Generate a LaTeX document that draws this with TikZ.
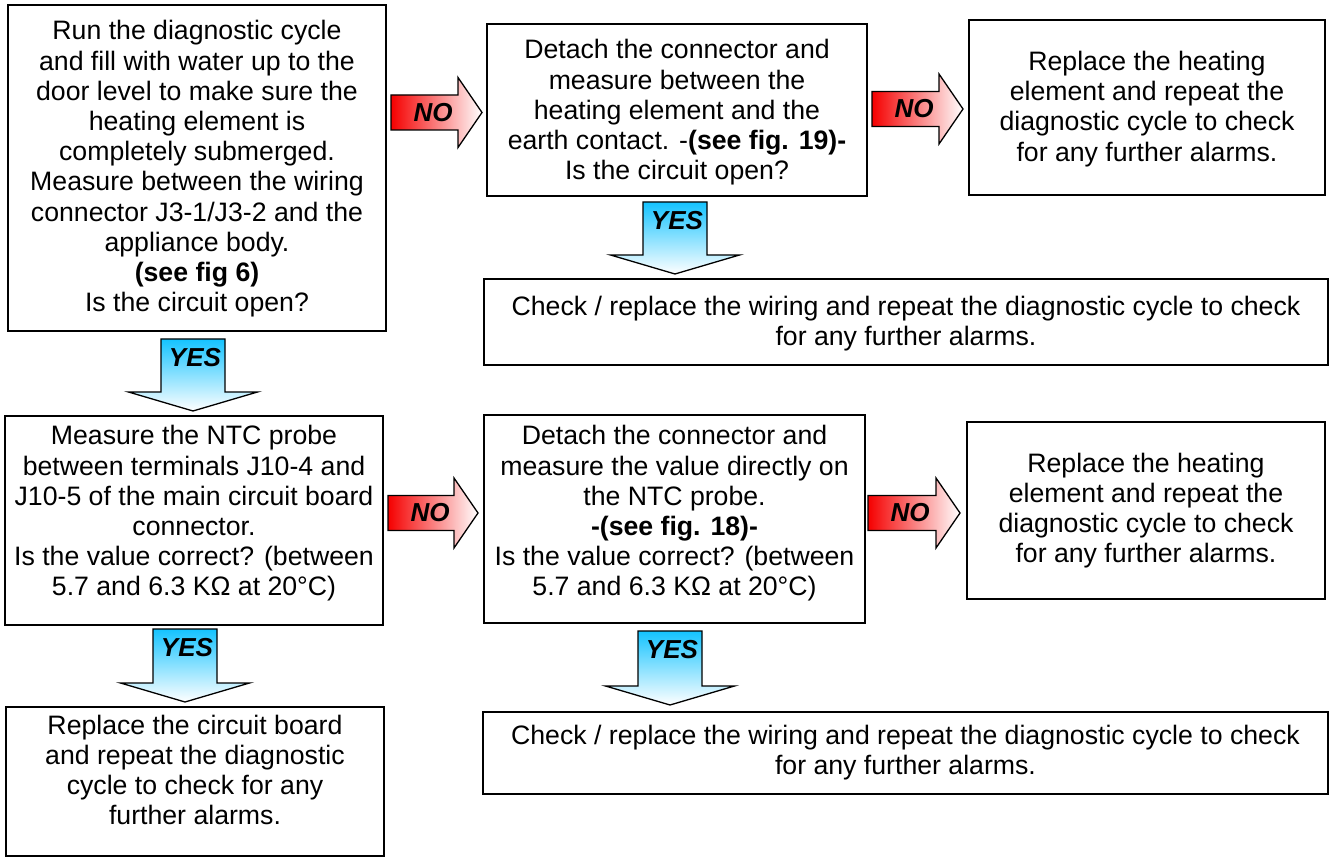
\documentclass[tikz,border=0pt]{standalone}
\usepackage{fontspec}
\setmainfont{Liberation Sans}
\usetikzlibrary{calc}

\definecolor{yestop}{RGB}{20,195,255}
\definecolor{nored}{RGB}{245,0,0}

\tikzset{
  box/.style={draw, line width=2pt, inner sep=0pt},
  boxtext/.style={align=center, inner sep=0pt, font=\fontsize{26.67pt}{30.2pt}\selectfont},
  flowtag/.style={inner sep=0pt, font=\fontsize{26pt}{30pt}\selectfont\bfseries\itshape},
  noshade/.style={left color=nored, right color=white, draw=black, line width=1.3pt},
  yesshade/.style={top color=yestop, middle color=yestop!35!white, bottom color=white, draw=black, line width=1.3pt},
}

% horizontal block arrow: #1 label name, #2 tail point, #3 tip point
\newcommand\noarrow[3]{%
  \path[noshade] let \p1=(#2), \p2=(#3) in
    (\x1,\y1+17.5pt) -- (\x2-24pt,\y1+17.5pt) -- (\x2-24pt,\y1+35pt) -- (\x2,\y1)
    -- (\x2-24pt,\y1-35pt) -- (\x2-24pt,\y1-17.5pt) -- (\x1,\y1-17.5pt) -- cycle;
  \path let \p1=(#2) in node[flowtag] (#1) at (\x1+42pt,\y1) {NO};
}
% vertical block arrow: #1 label name, #2 top of shaft, #3 tip point
\newcommand\yesarrow[3]{%
  \path[yesshade] let \p1=(#2), \p2=(#3) in
    (\x2-32pt,\y1) -- (\x2+32pt,\y1) -- (\x2+32pt,\y2+19pt) -- (\x2+64.5pt,\y2+19pt)
    -- (\x2,\y2) -- (\x2-64.5pt,\y2+19pt) -- (\x2-32pt,\y2+19pt) -- cycle;
  \path let \p1=(#2), \p2=(#3) in node[flowtag] (#1) at (\x2+2pt,\y1-19pt) {YES};
}

\begin{document}
\begin{tikzpicture}[x=1pt,y=-1pt]
\useasboundingbox (0,0) rectangle (1331,858);

% boxes
\node[box, minimum width=378pt, minimum height=326pt] (A) at (197,168) {};
\node[box, minimum width=380pt, minimum height=172pt] (B) at (677,110) {};
\node[box, minimum width=356pt, minimum height=175pt] (C) at (1147,107.5) {};
\node[box, minimum width=844pt, minimum height=86pt]  (D) at (906,322) {};
\node[box, minimum width=378pt, minimum height=209pt] (E) at (194,520.5) {};
\node[box, minimum width=381pt, minimum height=208pt] (F) at (674.5,519) {};
\node[box, minimum width=358pt, minimum height=177pt] (G) at (1146,510.5) {};
\node[box, minimum width=378pt, minimum height=149pt] (H) at (195,781.5) {};
\node[box, minimum width=845pt, minimum height=82pt]  (I) at (905.5,753) {};

% box texts
\node[boxtext] (At) at ($(A.center)+(0,1)$) {Run the diagnostic cycle\\and fill with water up to the\\door level to make sure the\\heating element is\\completely submerged.\\Measure between the wiring\\connector J3-1/J3-2 and the\\appliance body.\\\textbf{(see fig 6)}\\Is the circuit open?};
\node[boxtext] (Bt) at ($(B.center)+(0,2.5)$) {Detach the connector and\\measure between the\\heating element and the\\earth contact. -\textbf{(see fig. 19)-}\\Is the circuit open?};
\node[boxtext] (Ct) at ($(C.center)+(0,1.5)$) {Replace the heating\\element and repeat the\\diagnostic cycle to check\\for any further alarms.};
\node[boxtext] (Dt) at ($(D.center)+(0,2)$) {Check / replace the wiring and repeat the diagnostic cycle to check\\for any further alarms.};
\node[boxtext] (Et) at ($(E.center)+(0,-7)$) {Measure the NTC probe\\between terminals J10-4 and\\J10-5 of the main circuit board\\connector.\\Is the value correct? (between\\5.7 and 6.3 KΩ at 20°C)};
\node[boxtext] (Ft) at ($(F.center)+(0,-5.5)$) {Detach the connector and\\measure the value directly on\\the NTC probe.\\\textbf{-(see fig. 18)-}\\Is the value correct? (between\\5.7 and 6.3 KΩ at 20°C)};
\node[boxtext] (Gt) at (G.center) {Replace the heating\\element and repeat the\\diagnostic cycle to check\\for any further alarms.};
\node[boxtext] (Ht) at ($(H.center)+(0,-11.5)$) {Replace the circuit board\\and repeat the diagnostic\\cycle to check for any\\further alarms.};
\node[boxtext] (It) at (I.center) {Check / replace the wiring and repeat the diagnostic cycle to check\\for any further alarms.};

% NO connectors
\coordinate (n1a) at ($(A.east |- B.west)+(4,2.5)$);
\coordinate (n1b) at ($(B.west)+(-4,2.5)$);
\noarrow{no1}{n1a}{n1b}
\coordinate (n2a) at ($(B.east)+(4,-1)$);
\coordinate (n2b) at ($(C.west |- B.east)+(-5,-1)$);
\noarrow{no2}{n2a}{n2b}
\coordinate (n3a) at ($(E.east |- F.west)+(4,-6)$);
\coordinate (n3b) at ($(F.west)+(-5,-6)$);
\noarrow{no3}{n3a}{n3b}
\coordinate (n4a) at ($(F.east)+(2,-6)$);
\coordinate (n4b) at ($(G.west |- F.east)+(-6,-6)$);
\noarrow{no4}{n4a}{n4b}

% YES connectors
\coordinate (y1a) at ($(A.south)+(-3,7)$);
\coordinate (y1b) at ($(A.south |- E.north)+(-4,-4)$);
\yesarrow{yes1}{y1a}{y1b}
\coordinate (y2a) at ($(B.south)+(-2,5)$);
\coordinate (y2b) at ($(B.south |- D.north)+(-2,-4)$);
\yesarrow{yes2}{y2a}{y2b}
\coordinate (y3a) at ($(E.south)+(-9,3)$);
\coordinate (y3b) at ($(E.south |- H.north)+(-9,-4)$);
\yesarrow{yes3}{y3a}{y3b}
\coordinate (y4a) at ($(F.south)+(-4.5,7)$);
\coordinate (y4b) at ($(F.south |- I.north)+(-4.5,-6)$);
\yesarrow{yes4}{y4a}{y4b}
\end{tikzpicture}
\end{document}
